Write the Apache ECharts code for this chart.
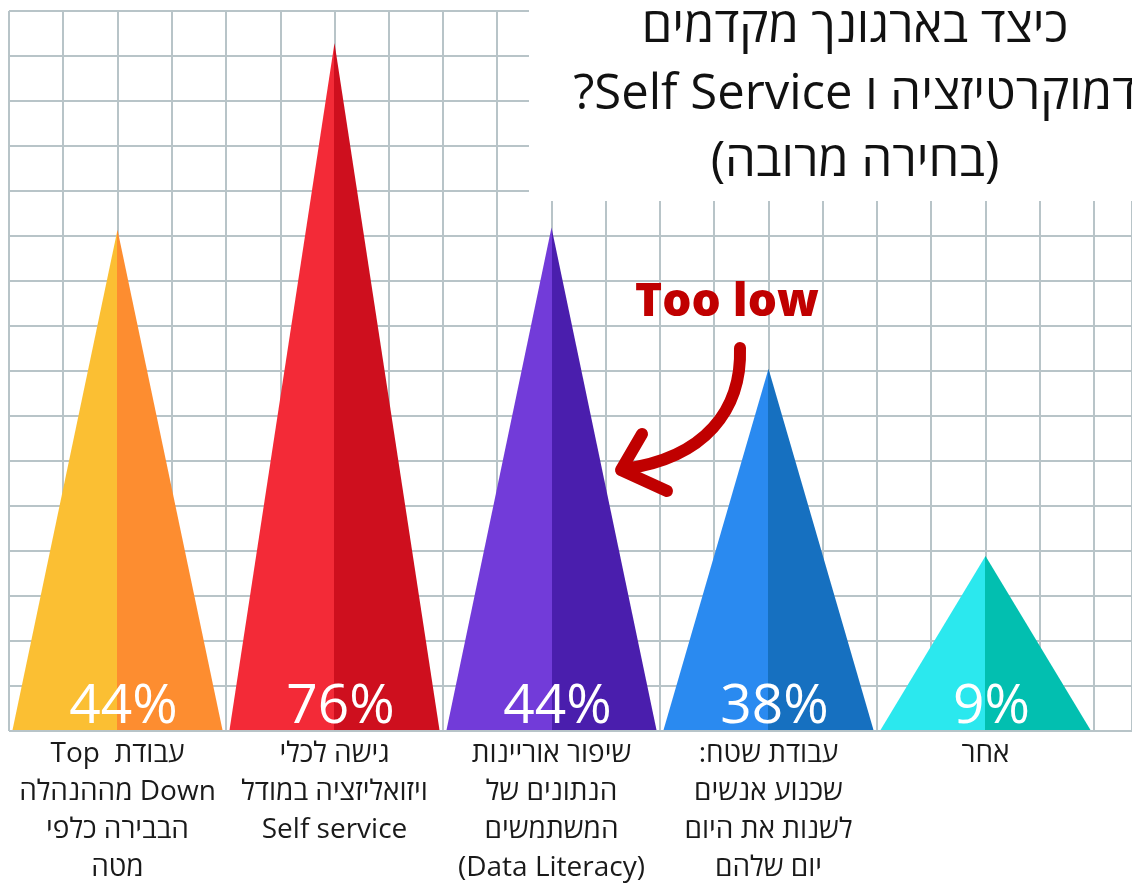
<!DOCTYPE html>
<html>
<head>
<meta charset="utf-8">
<script src="https://cdn.jsdelivr.net/npm/echarts@6/dist/echarts.min.js"></script>
<style>
  html, body { margin: 0; padding: 0; background: #fff; }
  #chart { width: 1132px; height: 887px; direction: rtl; }
</style>
</head>
<body>
<div id="chart"></div>
<script>
// categories (Hebrew, line breaks as in the picture)
const categories = [
  'עבודת  Top\nDown מההנהלה\nהבבירה כלפי\nמטה',
  'גישה לכלי\nויזואליזציה במודל\nSelf service',
  'שיפור אוריינות\nהנתונים של\nהמשתמשים\n(Data Literacy)',
  'עבודת שטח:\nשכנוע אנשים\nלשנות את היום\nיום שלהם',
  'אחר'
]
// drawn peak height of each triangle, in grid rows (the picture is not to scale)
const peakHeights = [11.13, 15.29, 11.18, 8.04, 3.87]
// printed shares
const shareLabels = ['44%', '76%', '44%', '38%', '9%']
const lightColors = ['#fbbf33', '#f32a37', '#723bd9', '#2a8af0', '#2be8ee']
const darkColors = ['#fd8d30', '#ce0f1e', '#4a1ead', '#1670c0', '#02bfb0']

const titleLines = ['כיצד בארגונך מקדמים', 'דמוקרטיזציה ו Self Service?', '(בחירה מרובה)']

const FONT = "'Open Sans', 'DejaVu Sans', sans-serif"
const gridColor = '#b8c4c8'
const cellW = 1085 / 20
const bgWidth = 1132 - 9

const chart = echarts.init(document.getElementById('chart'))

function splitFill(i) {
  return {
    type: 'linear', x: 0, y: 0, x2: 1, y2: 0,
    colorStops: [
      { offset: 0, color: lightColors[i] },
      { offset: 0.5, color: lightColors[i] },
      { offset: 0.5, color: darkColors[i] },
      { offset: 1, color: darkColors[i] }
    ]
  }
}

chart.setOption({
  animation: false,
  backgroundColor: '#fff',
  grid: [
    { left: 9, top: 11, bottom: 156, width: bgWidth },
    { left: 9, top: 11, bottom: 156, width: 1085 }
  ],
  xAxis: [
    {
      gridIndex: 0, type: 'value', min: 0, max: bgWidth / cellW, interval: 1,
      axisLine: { show: false }, axisTick: { show: false }, axisLabel: { show: false },
      splitLine: { show: true, lineStyle: { color: gridColor, width: 2 } }
    },
    {
      gridIndex: 1, type: 'category', data: categories,
      axisLine: { show: false }, axisTick: { show: false },
      axisLabel: {
        interval: 0, margin: 5, fontSize: 28, lineHeight: 38,
        fontFamily: FONT, color: '#1a1a1a', align: 'center'
      }
    }
  ],
  yAxis: [
    {
      gridIndex: 0, type: 'value', min: 0, max: 16, interval: 1,
      axisLine: { show: false }, axisTick: { show: false }, axisLabel: { show: false },
      splitLine: { show: true, lineStyle: { color: gridColor, width: 2 } }
    },
    { gridIndex: 1, type: 'value', min: 0, max: 16, show: false }
  ],
  series: [{
    type: 'pictorialBar',
    xAxisIndex: 1,
    yAxisIndex: 1,
    symbol: 'triangle',
    symbolSize: [210, '100%'],
    z: 3,
    data: peakHeights.map((v, i) => ({ value: v, itemStyle: { color: splitFill(i) } })),
    label: {
      show: true,
      position: 'insideBottom',
      distance: 0,
      offset: [6, 5],
      formatter: p => shareLabels[p.dataIndex],
      fontFamily: FONT,
      fontSize: 55,
      lineHeight: 55,
      color: '#fff'
    }
  }],
  graphic: [
    // title sits on a white panel over the grid
    { type: 'rect', z: 1, shape: { x: 529, y: 0, width: 603, height: 201 }, style: { fill: '#fff' } },
    {
      type: 'text', z: 10, x: 855, y: -5,
      style: {
        text: titleLines.join('\n'),
        align: 'center', verticalAlign: 'top',
        font: '49px ' + FONT, lineHeight: 67, fill: '#111'
      }
    },
    {
      type: 'text', z: 10, x: 727, y: 303,
      style: {
        text: 'Too low', align: 'center', verticalAlign: 'middle',
        font: '800 46px ' + FONT, fill: '#c00000'
      }
    },
    {
      type: 'bezierCurve', z: 10,
      shape: { x1: 740, y1: 348, cpx1: 742, cpy1: 410, cpx2: 705, cpy2: 458, x2: 624, y2: 469 },
      style: { stroke: '#c00000', lineWidth: 12, lineCap: 'round', fill: null }
    },
    {
      type: 'polyline', z: 10,
      shape: { points: [[642, 434], [621, 470], [667, 491]] },
      style: { stroke: '#c00000', lineWidth: 12, lineCap: 'round', lineJoin: 'round', fill: null }
    }
  ]
})
</script>
</body>
</html>
